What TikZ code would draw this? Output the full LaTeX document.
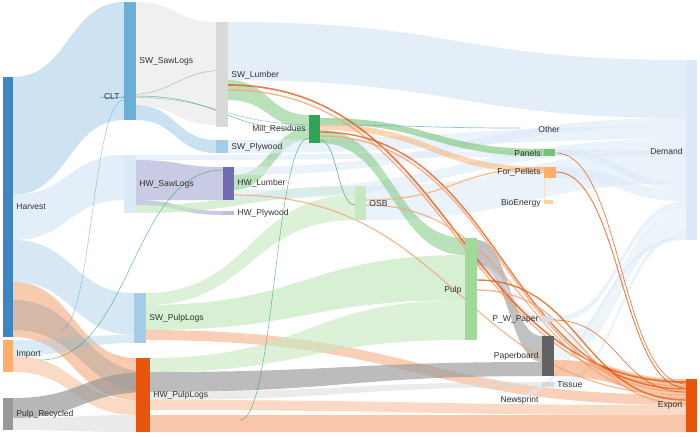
\documentclass[tikz,border=0pt]{standalone}
\usepackage{fontspec}
\setmainfont{Liberation Sans}
\definecolor{cHarv}{HTML}{3F86C0}
\definecolor{cLB}{HTML}{A6CDE8}
\definecolor{cVLB}{HTML}{DCEAF7}
\definecolor{cMB}{HTML}{6BAED6}
\definecolor{cOr}{HTML}{E6550D}
\definecolor{cSal}{HTML}{F4A070}
\definecolor{cLO}{HTML}{FDAE6B}
\definecolor{cVLO}{HTML}{FDD0A2}
\definecolor{cGr}{HTML}{31A354}
\definecolor{cMG}{HTML}{74C476}
\definecolor{cLG}{HTML}{A1D99B}
\definecolor{cVLG}{HTML}{C7E9C0}
\definecolor{cPur}{HTML}{756BB1}
\definecolor{cLP}{HTML}{BCBDDC}
\definecolor{cVLP}{HTML}{DADAEB}
\definecolor{cDG}{HTML}{636363}
\definecolor{cMGy}{HTML}{999999}
\definecolor{cLGy}{HTML}{D9D9D9}
\definecolor{cVLGy}{HTML}{EFEFEF}
\newcommand\skb[8]{\fill[#7,opacity=#8] (#1,#2) .. controls ({(#1+#4)/2},#2) and ({(#1+#4)/2},#5) .. (#4,#5) -- (#4,#6) .. controls ({(#1+#4)/2},#6) and ({(#1+#4)/2},#3) .. (#1,#3) -- cycle;}
\newcommand\skl[6]{\draw[#5,line width=#6,opacity=0.75] (#1,#2) .. controls ({(#1+#3)/2},#2) and ({(#1+#3)/2},#4) .. (#3,#4);}
\newcommand\skbar[6]{\node[fill=#6,inner sep=0pt,outer sep=0pt,minimum width={(#4-#2)*0.03cm},minimum height={(#5-#3)*0.03cm}] (#1) at ({(#2+#4)/2},{(#3+#5)/2}) {};}
\tikzset{lbl/.style={font=\fontsize{7.3}{8}\selectfont,text=black!80,inner sep=1pt}}
\begin{document}
\begin{tikzpicture}[x=0.03cm,y=-0.03cm]
\useasboundingbox (0,0) rectangle (700,436);
\fill[white] (0,0) rectangle (700,436);
% --- level 1 flows
\skb{13}{77}{195}{124}{2}{120}{cLB}{0.55}
\skb{13}{195}{240}{124}{155}{200}{cVLB}{0.8}
\skb{13}{240}{282}{134}{293}{335}{cLB}{0.45}
\skb{13}{282}{337}{136}{358}{400}{cSal}{0.55}
\skb{13}{340}{356}{134}{335}{343}{cLB}{0.4}
\skb{13}{356}{372}{136}{400}{415}{cSal}{0.4}
\skb{13}{398}{418}{150}{372}{392}{cMGy}{0.7}
\skb{13}{418}{430}{136}{415}{432}{cLGy}{0.5}
\skb{13}{300}{330}{150}{372}{392}{cMGy}{0.35}
% --- level 2 flows
\skb{136}{2}{105}{216}{22}{125}{cVLGy}{0.9}
\skb{136}{105}{120}{216}{140}{153}{cLB}{0.6}
\skb{136}{160}{200}{223}{167}{200}{cLP}{0.8}
\skb{136}{200}{205}{223}{211}{215}{cLP}{0.8}
\skb{136}{205}{213}{355}{186}{195}{cVLG}{0.7}
\skb{136}{155}{160}{690}{150}{156}{cVLB}{0.6}
\skb{146}{293}{305}{355}{195}{220}{cVLG}{0.6}
\skb{146}{305}{330}{465}{255}{300}{cVLG}{0.7}
\skb{146}{330}{340}{686}{395}{405}{cSal}{0.5}
\skb{150}{358}{372}{465}{300}{340}{cVLG}{0.6}
\skb{150}{372}{392}{542}{362}{376}{cMGy}{0.65}
\skb{150}{392}{400}{542}{382}{387}{cLGy}{0.5}
\skb{150}{415}{432}{686}{415}{432}{cSal}{0.6}
\skb{150}{400}{410}{686}{405}{415}{cSal}{0.4}
% --- level 3 flows
\skb{228}{22}{80}{686}{60}{118}{cVLB}{0.8}
\skb{228}{80}{100}{309}{115}{128}{cMG}{0.5}
\skb{234}{175}{190}{309}{128}{140}{cMG}{0.5}
\skb{234}{167}{175}{686}{118}{126}{cVLB}{0.6}
\skb{228}{140}{153}{686}{126}{139}{cVLB}{0.6}
\skb{234}{190}{200}{686}{139}{149}{cVLB}{0.6}
\skb{366}{186}{220}{686}{149}{183}{cVLB}{0.6}
\skb{320}{118}{124}{544}{149}{156}{cMG}{0.6}
\skb{320}{124}{130}{544}{167}{173}{cLO}{0.5}
\skb{320}{130}{143}{465}{238}{255}{cMG}{0.5}
\skb{477}{240}{265}{542}{336}{362}{cMGy}{0.6}
\skb{477}{265}{270}{542}{316}{322}{cVLP}{0.6}
\skb{556}{149}{156}{686}{183}{190}{cVLB}{0.6}
\skb{556}{167}{178}{686}{190}{201}{cVLB}{0.6}
\skb{556}{316}{322}{686}{201}{207}{cVLB}{0.6}
\skb{554}{336}{360}{686}{207}{231}{cVLB}{0.5}
\skb{554}{382}{387}{686}{231}{236}{cVLB}{0.6}
\skb{500}{398}{403}{686}{236}{240}{cVLB}{0.6}
\skb{554}{360}{376}{686}{379}{395}{cSal}{0.6}
% thin lines
\skl{228}{85}{686}{382}{cOr}{1.4pt}
\skl{228}{90}{686}{386}{cSal}{1.2pt}
\skl{320}{132}{686}{389}{cOr}{1.2pt}
\skl{320}{136}{686}{392}{cSal}{1.2pt}
\skl{234}{195}{686}{395}{cSal}{1pt}
\skl{366}{200}{544}{168}{cLO}{1.2pt}
\skl{366}{205}{686}{398}{cSal}{1pt}
\skl{477}{280}{686}{400}{cOr}{1.2pt}
\skl{477}{290}{686}{404}{cSal}{1.2pt}
\skl{556}{153}{686}{384}{cOr}{0.6pt}
\skl{556}{172}{686}{388}{cOr}{0.8pt}
\skl{553}{320}{686}{392}{cOr}{0.6pt}
\skl{320}{125}{520}{128}{cMB}{0.6pt}
\skl{124}{97}{320}{125}{cMB}{0.4pt}
\skl{100}{97}{124}{97}{cMB}{0.4pt}
\skl{60}{330}{124}{100}{cMB}{0.4pt}
\skl{40}{360}{223}{170}{cGr}{0.4pt}
\skl{124}{95}{228}{70}{cMB}{0.4pt}
\skl{136}{96}{309}{130}{cGr}{0.4pt}
\skl{240}{420}{309}{138}{cGr}{0.4pt}
\skl{320}{140}{355}{205}{cGr}{0.5pt}
\skl{544}{178}{544}{200}{cVLO}{0.6pt}
% bars
\skbar{harvest}{3}{77}{13}{337}{cHarv}
\skbar{import}{3}{340}{13}{372}{cLO}
\skbar{pulprec}{3}{398}{13}{430}{cMGy}
\skbar{clt}{123}{96}{124}{98}{cMB}
\skbar{swsaw}{124}{2}{136}{120}{cMB}
\skbar{hwsaw}{124}{155}{136}{213}{cVLB}
\skbar{swpulp}{134}{293}{146}{343}{cLB}
\skbar{hwpulp}{136}{358}{150}{432}{cOr}
\skbar{swlum}{216}{22}{228}{127}{cLGy}
\skbar{swply}{216}{140}{228}{153}{cLB}
\skbar{hwlum}{223}{167}{234}{200}{cPur}
\skbar{hwply}{223}{211}{234}{215}{cLP}
\skbar{mill}{309}{115}{320}{143}{cGr}
\skbar{osb}{355}{186}{366}{220}{cVLG}
\skbar{pulp}{465}{238}{477}{340}{cLG}
\skbar{panels}{544}{149}{555}{156}{cMG}
\skbar{pellets}{544}{167}{556}{178}{cLO}
\skbar{bio}{544}{200}{553}{204}{cVLO}
\skbar{pwp}{542}{316}{553}{322}{cVLP}
\skbar{board}{542}{336}{554}{376}{cDG}
\skbar{tissue}{542}{382}{554}{387}{cLGy}
\skbar{demand}{686}{60}{697}{240}{cVLB}
\skbar{export}{686}{379}{697}{432}{cOr}
% labels
\node[lbl,anchor=west] at (15,207) {Harvest};
\node[lbl,anchor=west] at (15,354) {Import};
\node[lbl,anchor=west] at (15,414) {Pulp\_Recycled};
\node[lbl,anchor=east] at (121,97) {CLT};
\node[lbl,anchor=west] at (138,61) {SW\_SawLogs};
\node[lbl,anchor=west] at (138,184) {HW\_SawLogs};
\node[lbl,anchor=west] at (148,318) {SW\_PulpLogs};
\node[lbl,anchor=west] at (152,395) {HW\_PulpLogs};
\node[lbl,anchor=west] at (230,75) {SW\_Lumber};
\node[lbl,anchor=west] at (230,147) {SW\_Plywood};
\node[lbl,anchor=west] at (236,183) {HW\_Lumber};
\node[lbl,anchor=west] at (236,213) {HW\_Plywood};
\node[lbl,anchor=east] at (307,129) {Mill\_Residues};
\node[lbl,anchor=west] at (368,204) {OSB};
\node[lbl,anchor=east] at (463,290) {Pulp};
\node[lbl,anchor=west] at (537,129) {Other};
\node[lbl,anchor=east] at (542,153) {Panels};
\node[lbl,anchor=east] at (542,172) {For\_Pellets};
\node[lbl,anchor=east] at (542,203) {BioEnergy};
\node[lbl,anchor=east] at (540,319) {P\_W\_Paper};
\node[lbl,anchor=east] at (540,356) {Paperboard};
\node[lbl,anchor=west] at (556,384) {Tissue};
\node[lbl,anchor=east] at (540,400) {Newsprint};
\node[lbl,anchor=east] at (684,151) {Demand};
\node[lbl,anchor=east] at (684,405) {Export};
\end{tikzpicture}
\end{document}
